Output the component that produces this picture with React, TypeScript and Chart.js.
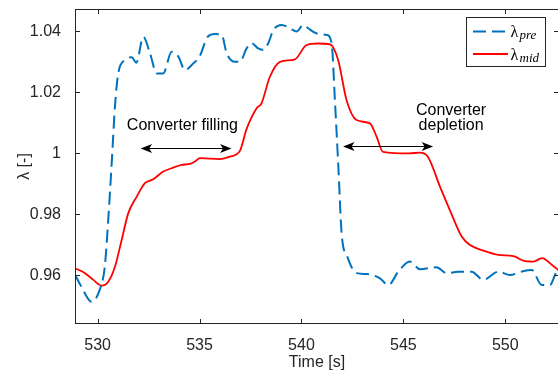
import React, { useEffect, useRef } from "react";
import { Chart, registerables } from "chart.js";

Chart.register(...registerables);

// ---- data ----
const preTime = [528.9, 529.2, 529.7, 530.1, 530.35, 530.52, 530.69, 530.85, 531.0, 531.33, 531.67, 531.9, 532.24, 532.57, 532.9, 533.22, 533.63, 533.96, 534.28, 534.7, 535.0, 535.4, 535.76, 536.09, 536.33, 536.74, 536.98, 537.31, 537.55, 537.88, 538.12, 538.37, 538.62, 539.03, 539.43, 539.76, 540.09, 540.33, 540.75, 541.24, 541.48, 541.64, 541.81, 541.97, 542.25, 542.71, 543.2, 543.85, 544.26, 544.75, 545.32, 545.81, 546.63, 547.12, 547.69, 548.35, 548.92, 549.66, 550.23, 550.8, 551.3, 551.79, 552.19, 552.52, 552.7];
const preValues = [0.9601, 0.9563, 0.9513, 0.9552, 0.9628, 0.9781, 0.9967, 1.0153, 1.0257, 1.0306, 1.0315, 1.0297, 1.0382, 1.0328, 1.0262, 1.0262, 1.0333, 1.0317, 1.0273, 1.0295, 1.0317, 1.0382, 1.0391, 1.0388, 1.0328, 1.03, 1.03, 1.0344, 1.0361, 1.0344, 1.0339, 1.0361, 1.0404, 1.0421, 1.041, 1.0399, 1.0421, 1.041, 1.0393, 1.0388, 1.0361, 1.0175, 0.9956, 0.9738, 0.9661, 0.9607, 0.9604, 0.959, 0.9568, 0.9612, 0.9645, 0.962, 0.9626, 0.9607, 0.9612, 0.9612, 0.9585, 0.9612, 0.9601, 0.9612, 0.9617, 0.9568, 0.9568, 0.9612, 0.962];

const midTime = [528.89, 529.38, 529.79, 530.2, 530.52, 530.85, 531.18, 531.5, 531.92, 532.32, 532.73, 533.22, 533.63, 534.12, 534.53, 534.77, 535.02, 536.0, 536.49, 536.98, 537.31, 537.8, 538.04, 538.45, 538.95, 539.68, 540.25, 540.8, 541.4, 541.8, 542.21, 542.7, 543.36, 543.69, 544.0, 545.3, 545.8, 546.2, 546.8, 547.28, 547.86, 548.27, 548.92, 549.66, 550.4, 550.89, 551.38, 551.8, 552.29, 552.7];
const midValues = [0.9623, 0.9607, 0.9585, 0.9566, 0.9579, 0.9628, 0.9716, 0.9803, 0.9858, 0.9902, 0.9915, 0.994, 0.9951, 0.9962, 0.9965, 0.9973, 0.9984, 0.9981, 0.9989, 1.0008, 1.008, 1.0148, 1.0164, 1.0251, 1.03, 1.0308, 1.0355, 1.036, 1.0357, 1.0306, 1.0175, 1.0109, 1.0098, 1.0054, 1.0005, 1.0, 1.0002, 0.9989, 0.989, 0.9814, 0.9727, 0.9699, 0.9681, 0.9667, 0.9663, 0.9648, 0.9645, 0.9656, 0.9634, 0.9612];

const xTicks = [530, 535, 540, 545, 550];
const yTicks = [0.96, 0.98, 1.0, 1.02, 1.04];
const xRange = [528.89, 552.635];
const yRange = [0.94403, 1.04731];

// annotations: [tStart, tEnd, value]
const fillArrow = [532.11, 536.57, 1.00184];
const depletionArrow = [542.04, 546.46, 1.0023];
// labels: [t, value(baseline), text]
const annotationLabels: [number, number, string][] = [
  [534.16, 1.0075, "Converter filling"],
  [547.34, 1.01256, "Converter"],
  [547.34, 1.0075, "depletion"],
];

const BLUE = "#0072BD";
const RED = "#FF0000";
const AXIS = "#262626";
const SANS = "'Liberation Sans', Arial, Helvetica, sans-serif";
const SERIF = "'Liberation Serif', 'DejaVu Serif', serif";
const DASH = [13, 6];

function arrowHead(ctx: CanvasRenderingContext2D, x: number, y: number, dir: number) {
  const L = 11.5, W = 4.5, N = 8.5;
  ctx.beginPath();
  ctx.moveTo(x, y);
  ctx.lineTo(x - dir * L, y - W);
  ctx.lineTo(x - dir * N, y);
  ctx.lineTo(x - dir * L, y + W);
  ctx.closePath();
  ctx.fill();
}

const framePlugin = {
  id: "matlabFrame",
  afterDraw(chart: any) {
    const ctx: CanvasRenderingContext2D = chart.ctx;
    const { left, right, top, bottom } = chart.chartArea;
    const xs = chart.scales.x;
    const ys = chart.scales.y;
    ctx.save();
    ctx.strokeStyle = AXIS;
    ctx.lineWidth = 1;
    ctx.strokeRect(left + 0.5, top + 0.5, right - left - 1, bottom - top - 1);
    const tl = 5;
    ctx.beginPath();
    xTicks.forEach((v) => {
      const px = Math.round(xs.getPixelForValue(v)) + 0.5;
      ctx.moveTo(px, bottom);
      ctx.lineTo(px, bottom - tl);
      ctx.moveTo(px, top);
      ctx.lineTo(px, top + tl);
    });
    yTicks.forEach((v) => {
      const py = Math.round(ys.getPixelForValue(v)) + 0.5;
      ctx.moveTo(left, py);
      ctx.lineTo(left + tl, py);
      ctx.moveTo(right, py);
      ctx.lineTo(right - tl, py);
    });
    ctx.stroke();

    ctx.strokeStyle = "#000";
    ctx.fillStyle = "#000";
    ctx.lineWidth = 1.1;
    [fillArrow, depletionArrow].forEach(([t0, t1, v]) => {
      const x0 = xs.getPixelForValue(t0);
      const x1 = xs.getPixelForValue(t1);
      const y = Math.round(ys.getPixelForValue(v)) + 0.5;
      ctx.beginPath();
      ctx.moveTo(x0 + 6, y);
      ctx.lineTo(x1 - 6, y);
      ctx.stroke();
      arrowHead(ctx, x0, y, -1);
      arrowHead(ctx, x1, y, 1);
    });

    ctx.font = `16px ${SANS}`;
    ctx.textAlign = "center";
    ctx.textBaseline = "alphabetic";
    annotationLabels.forEach(([t, v, s]) => {
      ctx.fillText(s, xs.getPixelForValue(t), ys.getPixelForValue(v));
    });

    const bx = right - 92.5;
    const by = top + 8.5;
    ctx.fillStyle = "#fff";
    ctx.fillRect(bx, by, 79, 49);
    ctx.strokeStyle = AXIS;
    ctx.lineWidth = 1;
    ctx.strokeRect(bx, by, 79, 49);
    const rows = [
      { color: BLUE, dash: DASH, sub: "pre", ly: by + 14 },
      { color: RED, dash: [] as number[], sub: "mid", ly: by + 36.5 },
    ];
    rows.forEach((r) => {
      ctx.strokeStyle = r.color;
      ctx.lineWidth = 2;
      ctx.setLineDash(r.dash);
      ctx.beginPath();
      ctx.moveTo(bx + 6.5, r.ly);
      ctx.lineTo(bx + 41.5, r.ly);
      ctx.stroke();
      ctx.setLineDash([]);
      ctx.fillStyle = "#000";
      ctx.textAlign = "left";
      ctx.textBaseline = "alphabetic";
      ctx.font = `16px ${SERIF}`;
      ctx.fillText("λ", bx + 44, r.ly + 5.5);
      ctx.font = `italic 13px ${SERIF}`;
      ctx.fillText(r.sub, bx + 53, r.ly + 7.5);
    });
    ctx.restore();
  },
};

export default function App() {
  const ref = useRef<HTMLCanvasElement | null>(null);

  useEffect(() => {
    document.body.style.margin = "0";
    if (!ref.current) return;
    Chart.defaults.font.family = SANS;
    const chart = new Chart(ref.current, {
      type: "line",
      data: {
        datasets: [
          {
            label: "λpre",
            data: preTime.map((t, i) => ({ x: t, y: preValues[i] })),
            borderColor: BLUE,
            borderWidth: 2,
            borderDash: DASH,
            pointRadius: 0,
            cubicInterpolationMode: "monotone",
            fill: false,
          },
          {
            label: "λmid",
            data: midTime.map((t, i) => ({ x: t, y: midValues[i] })),
            borderColor: RED,
            borderWidth: 1.8,
            pointRadius: 0,
            cubicInterpolationMode: "monotone",
            fill: false,
          },
        ],
      },
      options: {
        animation: false,
        responsive: true,
        maintainAspectRatio: false,
        layout: { padding: { top: 9, right: 1, left: 0, bottom: 0 } },
        plugins: { legend: { display: false }, tooltip: { enabled: false } },
        scales: {
          x: {
            type: "linear",
            min: xRange[0],
            max: xRange[1],
            grid: { display: false },
            border: { display: false },
            afterBuildTicks: (s: any) => {
              s.ticks = xTicks.map((v) => ({ value: v }));
            },
            afterFit: (s: any) => {
              s.height = 50;
              s.paddingLeft = 0;
              s.paddingRight = 0;
            },
            ticks: {
              autoSkip: false,
              maxRotation: 0,
              padding: 4,
              color: AXIS,
              font: { size: 16 },
              callback: (v: any) => String(v),
            },
            title: {
              display: true,
              text: "Time [s]",
              color: AXIS,
              font: { size: 16 },
              padding: { top: 0, bottom: 2 },
            },
          },
          y: {
            type: "linear",
            min: yRange[0],
            max: yRange[1],
            grid: { display: false },
            border: { display: false },
            afterBuildTicks: (s: any) => {
              s.ticks = yTicks.map((v) => ({ value: v }));
            },
            afterFit: (s: any) => {
              s.width = 75;
              s.paddingTop = 0;
              s.paddingBottom = 0;
            },
            ticks: {
              autoSkip: false,
              padding: 6,
              color: AXIS,
              font: { size: 16 },
              callback: (v: any) => String(parseFloat(Number(v).toFixed(2))),
            },
            title: {
              display: true,
              text: "λ [-]",
              color: AXIS,
              font: { size: 16 },
              padding: { top: 15, bottom: 0 },
            },
          },
        },
      },
      plugins: [framePlugin],
    });
    return () => chart.destroy();
  }, []);

  return (
    <div style={{ width: 558, height: 374, overflow: "hidden", background: "#fff" }}>
      <div style={{ width: 560, height: 374, position: "relative" }}>
        <canvas ref={ref} />
      </div>
    </div>
  );
}
